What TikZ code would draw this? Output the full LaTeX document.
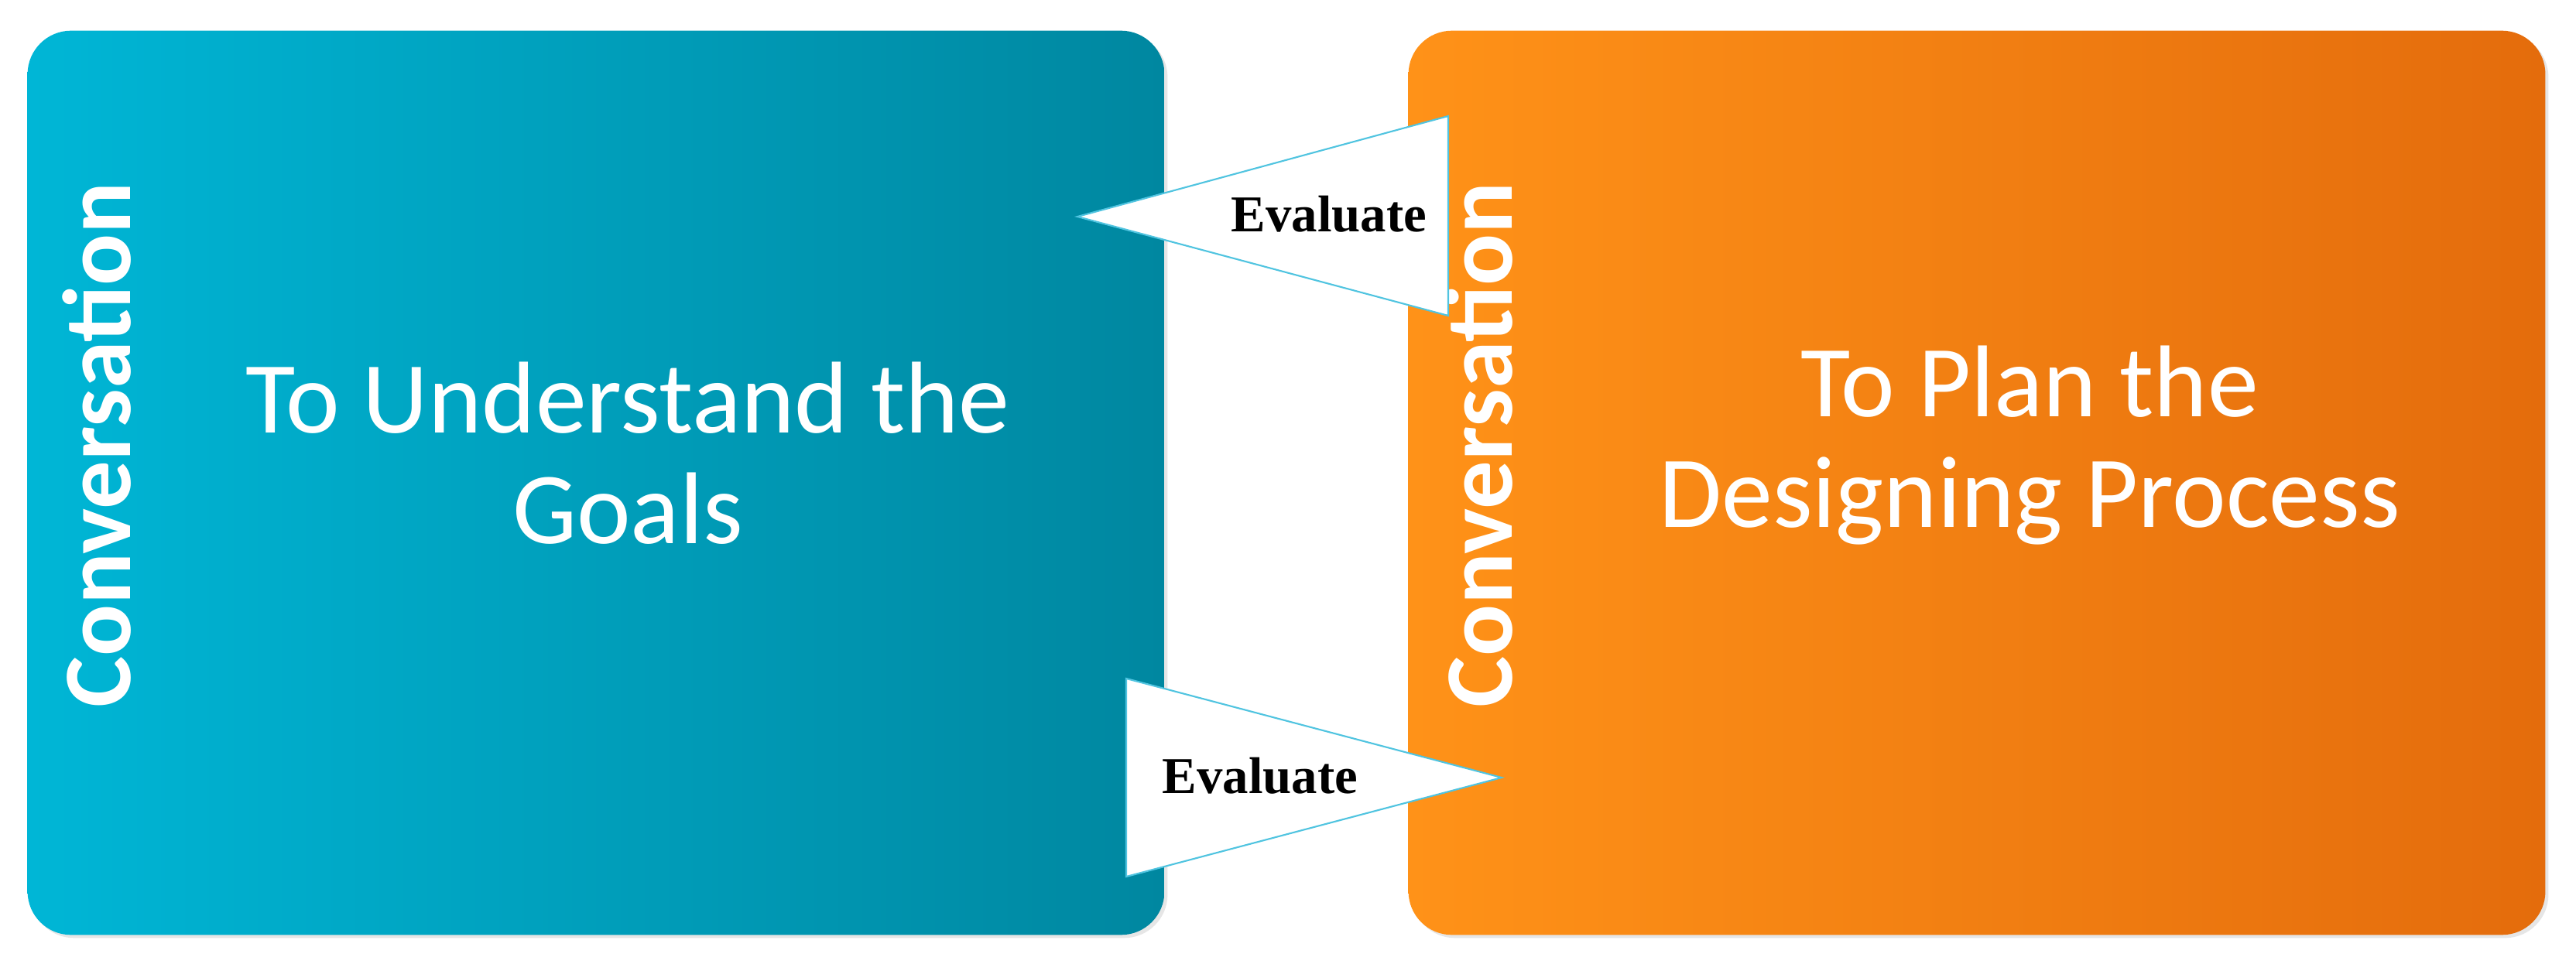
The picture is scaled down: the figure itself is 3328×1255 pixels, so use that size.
\documentclass[tikz,border=0pt]{standalone}
\usepackage{fontspec}
\setmainfont{Carlito}
\newfontfamily\evalfont{Liberation Serif}
\usetikzlibrary{shadows}
\definecolor{tealL}{RGB}{0,182,214}
\definecolor{tealR}{RGB}{0,135,160}
\definecolor{orangeL}{RGB}{255,146,24}
\definecolor{orangeR}{RGB}{228,108,12}
\definecolor{rimblue}{RGB}{80,196,224}

\begin{document}
\begin{tikzpicture}[x=0.01cm,y=-0.01cm,
  stagebox/.style={rectangle,rounded corners=16pt,minimum width=14.68cm,minimum height=11.68cm,inner sep=0pt,outer sep=0pt,
    drop shadow={opacity=0.2,shadow xshift=0.4mm,shadow yshift=-0.4mm}},
  sidelabel/.style={rotate=90,anchor=base,text=white,font=\fontsize{35.5}{40}\selectfont\bfseries},
  stagetitle/.style={anchor=north,align=center,inner sep=0pt,text=white,font=\fontsize{37.5}{40.7}\selectfont},
  evalarrow/.style={draw=rimblue,fill=white,line width=0.6pt,line join=miter},
  evallabel/.style={anchor=base,inner sep=0pt,font=\evalfont\bfseries\fontsize{19}{22}\selectfont}]
\useasboundingbox (0,0) rectangle (3328,1255);
\node[stagebox,left color=tealL,right color=tealR] (goals) at (770,624) {};
\node[stagebox,left color=orangeL,right color=orangeR] (plan) at (2554,624) {};
\node[sidelabel] (convgoals) at (168,575) {Conversation};
\node[sidelabel] (convplan) at (1953,575) {Conversation};
\node[stagetitle] (goalstext) at (811,467) {To Understand the\\Goals};
\node[stagetitle] (plantext) at (2622,446) {To Plan the\\Designing Process};
% evaluate arrows between the stages
\coordinate (uptip) at (1392,280);
\coordinate (uptop) at (1871,150);
\coordinate (upbot) at (1871,408);
\draw[evalarrow] (uptip) -- (uptop) -- (upbot) -- cycle;
\node[evallabel] (evalup) at (1717,300) {Evaluate};
\coordinate (lotip) at (1940,1005);
\coordinate (lotop) at (1455,877);
\coordinate (lobot) at (1455,1133);
\draw[evalarrow] (lotip) -- (lotop) -- (lobot) -- cycle;
\node[evallabel] (evallo) at (1628,1025) {Evaluate};
\end{tikzpicture}
\end{document}
